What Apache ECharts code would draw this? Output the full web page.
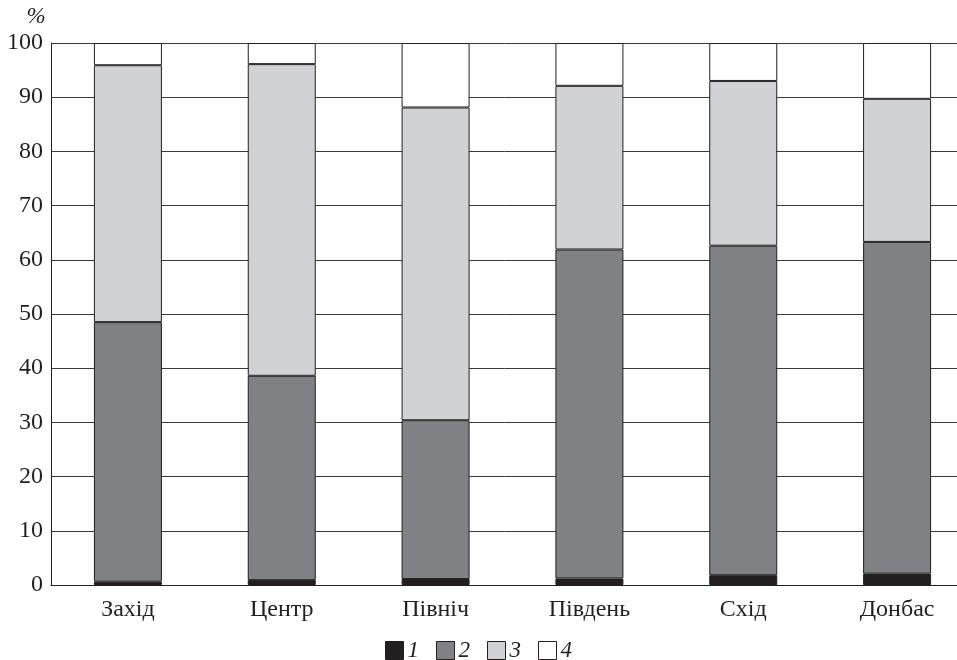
<!DOCTYPE html>
<html>
    <head>
        <meta charset='utf-8'>
        <script src="https://cdn.jsdelivr.net/npm/echarts@6/dist/echarts.min.js"></script>
    </head>
    <body>
        <style>
            html, body, #main {
                width: 100%;
                height: 100%;
                margin: 0;
                background: #fff;
            }
        </style>
        <div id='main'></div>
        <script>
        var regions = ['Захід', 'Центр', 'Північ', 'Південь', 'Схід', 'Донбас'];
        // stacked shares, %
        var group1 = [0.6, 0.9, 1.1, 1.2, 1.8, 2.1];
        var group2 = [47.9, 37.7, 29.3, 60.7, 60.8, 61.2];
        var group3 = [47.4, 57.5, 57.7, 30.2, 30.4, 26.4];
        var group4 = [4.1, 3.9, 11.9, 7.9, 7.0, 10.3];
        var seriesNames = ['1', '2', '3', '4'];
        var colors = ['#231f20', '#808184', '#d1d2d4', '#ffffff'];

        var chart = echarts.init(document.getElementById('main'));
        var font = 'Liberation Serif';

        var series = [group1, group2, group3, group4].map(function (d, i) {
            return {
                name: seriesNames[i],
                type: 'bar',
                stack: 'all',
                data: d,
                barWidth: 68,
                itemStyle: {
                    color: colors[i],
                    borderColor: '#231f20',
                    borderWidth: 1
                }
            };
        });

        chart.setOption({
            animation: false,
            backgroundColor: '#fff',
            grid: {
                left: 51,
                width: 923,
                top: 43,
                bottom: 75,
                outerBoundsMode: 'none'
            },
            legend: {
                left: 380,
                top: 634,
                itemWidth: 18,
                itemHeight: 18,
                itemGap: 17,
                icon: 'rect',
                itemStyle: {
                    borderColor: '#231f20',
                    borderWidth: 1
                },
                textStyle: {
                    fontFamily: font,
                    fontStyle: 'italic',
                    fontSize: 23,
                    color: '#231f20',
                    padding: [0, 0, 0, -1]
                },
                data: seriesNames
            },
            xAxis: {
                type: 'category',
                data: regions,
                axisLine: { lineStyle: { color: '#231f20', width: 1 } },
                axisTick: { show: false },
                axisLabel: {
                    fontFamily: font,
                    fontSize: 24,
                    color: '#231f20',
                    margin: 13
                }
            },
            yAxis: {
                type: 'value',
                min: 0,
                max: 100,
                interval: 10,
                name: '%',
                nameGap: 15,
                nameTextStyle: {
                    fontFamily: font,
                    fontStyle: 'italic',
                    fontSize: 23,
                    color: '#231f20',
                    padding: [0, 30, 0, 0]
                },
                axisLine: { show: true, lineStyle: { color: '#231f20', width: 1 } },
                axisTick: { show: false },
                axisLabel: {
                    fontFamily: font,
                    fontSize: 24,
                    color: '#231f20',
                    margin: 8
                },
                splitLine: { lineStyle: { color: '#3a3a3a', width: 1 } }
            },
            series: series
        });
        </script>
    </body>
</html>
